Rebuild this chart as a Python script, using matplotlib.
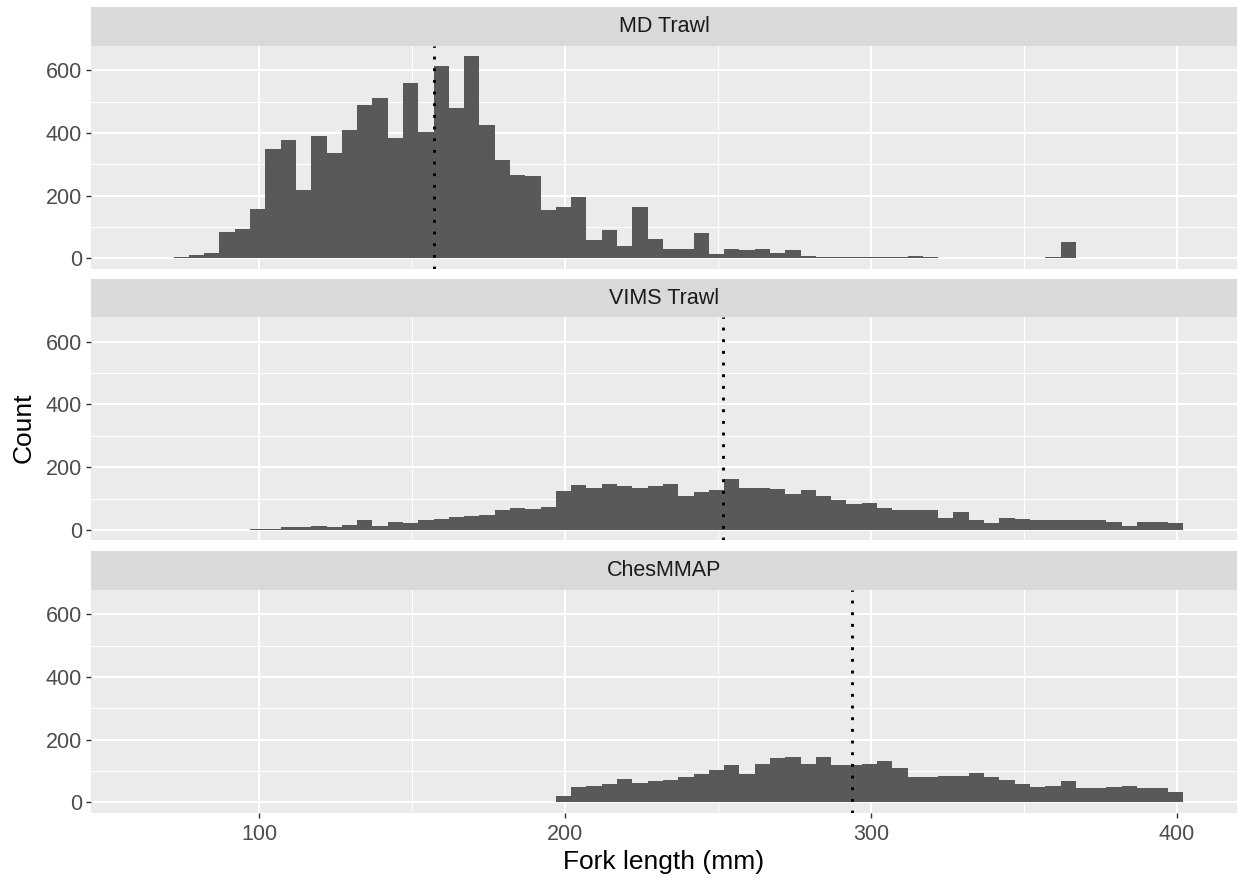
import numpy as np
import matplotlib.pyplot as plt

plt.rcParams['font.family'] = ['Liberation Sans', 'DejaVu Sans']

binw = 5

# MD Trawl, bins start at 72 mm
md_start = 72
md_counts = [5, 12, 18, 85, 95, 157, 349, 377, 217, 389,
             335, 408, 488, 513, 385, 559, 403, 612, 481, 645,
             426, 313, 267, 263, 154, 163, 195, 59, 90, 41,
             163, 63, 31, 31, 82, 13, 31, 27, 31, 19,
             27, 7, 5, 5, 5, 5, 5, 5, 9, 5,
             0, 0, 0, 0, 0, 0, 0, 5, 54]

# VIMS Trawl, bins start at 97 mm
vims_start = 97
vims_counts = [4, 4, 8, 8, 13, 8, 17, 31, 12, 26,
               23, 31, 35, 40, 45, 49, 62, 71, 68, 72,
               123, 142, 135, 145, 141, 135, 141, 145, 109, 122,
               127, 163, 135, 135, 131, 113, 126, 109, 95, 82,
               86, 71, 62, 62, 62, 39, 57, 30, 22, 39,
               34, 30, 30, 30, 30, 30, 26, 12, 26, 26, 22]

# ChesMMAP, bins start at 197 mm
ches_start = 197
ches_counts = [21, 48, 53, 58, 76, 63, 67, 72, 80, 90,
               104, 118, 90, 123, 141, 146, 123, 146, 118, 118,
               123, 132, 109, 80, 80, 86, 86, 95, 80, 72,
               58, 49, 53, 67, 45, 45, 49, 53, 45, 45, 35]

panel_names = ['MD Trawl', 'VIMS Trawl', 'ChesMMAP']
panel_starts = [md_start, vims_start, ches_start]
panel_counts = [md_counts, vims_counts, ches_counts]
mean_lengths = [157.2, 251.6, 293.8]

W, H = 1238, 881
fig = plt.figure(figsize=(W / 100, H / 100), dpi=100)

left = 91 / W
width = (1237 - 91) / W
plot_px = [(46, 268.6), (317.4, 540), (590, 812.6)]
strip_px = [(7, 46), (279, 317.4), (551, 590)]

ymax = 645 * 1.05
ymin = -645 * 0.05

for i in range(3):
    top, bot = plot_px[i]
    ax = fig.add_axes([left, 1 - bot / H, width, (bot - top) / H])
    ax.set_facecolor('#EBEBEB')
    for s in ax.spines.values():
        s.set_visible(False)

    counts = np.array(panel_counts[i])
    edges = panel_starts[i] + binw * np.arange(len(counts))
    ax.bar(edges, counts, width=binw, align='edge', color='#595959',
           linewidth=0, zorder=2)
    ax.axvline(mean_lengths[i], color='black', lw=2.1,
               linestyle=(0, (1, 3.0)), zorder=3)

    ax.set_xlim(45, 419.7)
    ax.set_ylim(ymin, ymax)
    ax.set_xticks([100, 200, 300, 400])
    ax.set_xticks([150, 250, 350], minor=True)
    ax.set_yticks([0, 200, 400, 600])
    ax.set_yticks([100, 300, 500], minor=True)
    ax.grid(True, which='major', color='white', lw=1.5, zorder=0)
    ax.grid(True, which='minor', color='white', lw=0.75, zorder=0)
    ax.set_axisbelow(True)
    ax.tick_params(which='minor', length=0)
    ax.tick_params(axis='y', which='major', length=3.5, width=1,
                   color='#333333', labelsize=15.5, labelcolor='#4D4D4D', pad=3)
    if i < 2:
        ax.tick_params(axis='x', which='major', length=0, labelbottom=False)
    else:
        ax.tick_params(axis='x', which='major', length=3.5, width=1,
                       color='#333333', labelsize=15.5, labelcolor='#4D4D4D', pad=5)

    # facet strip
    st, sb = strip_px[i]
    sax = fig.add_axes([left, 1 - sb / H, width, (sb - st) / H])
    sax.set_facecolor('#D9D9D9')
    sax.set_xticks([])
    sax.set_yticks([])
    for s in sax.spines.values():
        s.set_visible(False)
    sax.text(0.5, 0.5, panel_names[i], ha='center', va='center',
             fontsize=15.5, color='#1A1A1A', transform=sax.transAxes)

fig.text(664 / W, 1 - 862 / H, 'Fork length (mm)', ha='center', va='center',
         fontsize=19, color='black')
fig.text(24 / W, 1 - 428 / H, 'Count', ha='center', va='center',
         rotation=90, fontsize=19, color='black')

plt.savefig('out.png', dpi=100)
